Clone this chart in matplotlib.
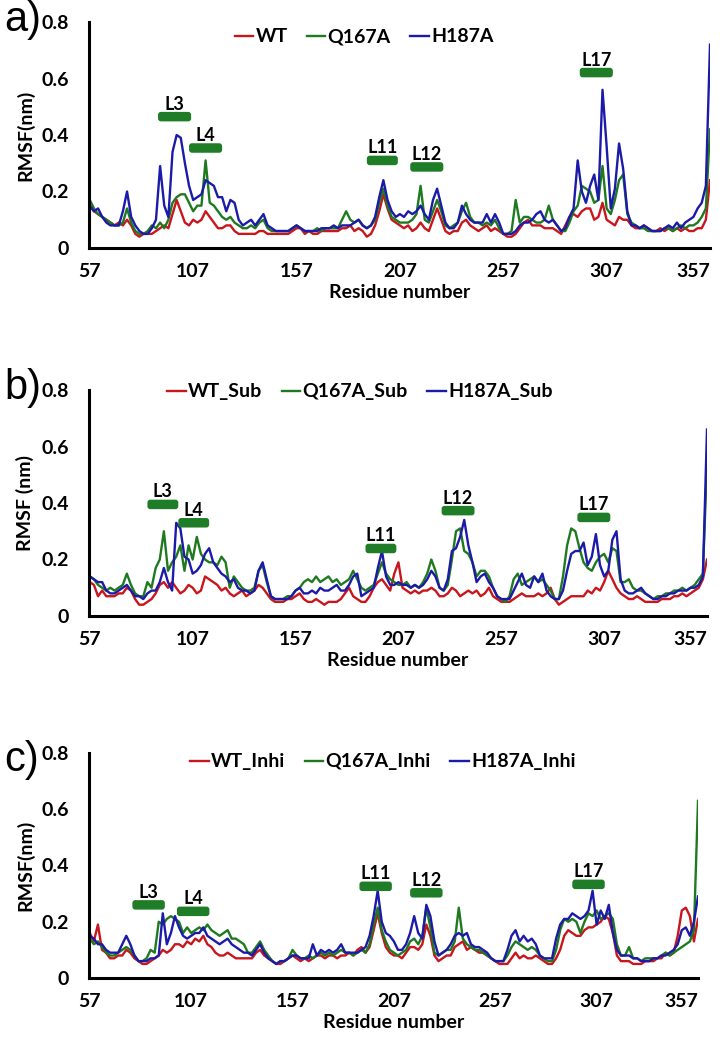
import numpy as np
import matplotlib
matplotlib.use('Agg')
import matplotlib.pyplot as plt
from matplotlib.patches import FancyBboxPatch

# residue numbers (every second residue)
residues = list(range(57, 358, 2))

# ---------- a) apo ----------
wt = [0.15, 0.13, 0.12, 0.11, 0.10, 0.09, 0.08, 0.09, 0.08, 0.10,
      0.08, 0.05, 0.04, 0.05, 0.05, 0.05, 0.06, 0.07, 0.08, 0.07,
      0.12, 0.17, 0.13, 0.09, 0.08, 0.10, 0.09, 0.10, 0.13, 0.11,
      0.09, 0.07, 0.07, 0.08, 0.08, 0.06, 0.05, 0.05, 0.05, 0.05,
      0.05, 0.06, 0.06, 0.05, 0.05, 0.05, 0.05, 0.05, 0.05, 0.06,
      0.07, 0.07, 0.05, 0.06, 0.05, 0.05, 0.06, 0.06, 0.06, 0.06,
      0.06, 0.07, 0.07, 0.08, 0.06, 0.07, 0.06, 0.04, 0.05, 0.08,
      0.13, 0.19, 0.14, 0.10, 0.09, 0.08, 0.07, 0.08, 0.06, 0.07,
      0.09, 0.07, 0.06, 0.10, 0.14, 0.10, 0.06, 0.05, 0.06, 0.06,
      0.09, 0.10, 0.08, 0.07, 0.06, 0.07, 0.08, 0.06, 0.07, 0.06,
      0.05, 0.04, 0.04, 0.05, 0.07, 0.09, 0.10, 0.08, 0.08, 0.08,
      0.07, 0.07, 0.07, 0.06, 0.05, 0.08, 0.11, 0.12, 0.11, 0.13,
      0.14, 0.14, 0.10, 0.11, 0.16, 0.10, 0.09, 0.08, 0.11, 0.10,
      0.10, 0.08, 0.07, 0.07, 0.08, 0.07, 0.06, 0.06, 0.07, 0.06,
      0.07, 0.06, 0.07, 0.06, 0.07, 0.06, 0.06, 0.07, 0.07, 0.10,
      0.24]
q167a = [0.17, 0.14, 0.12, 0.11, 0.10, 0.09, 0.08, 0.08, 0.09, 0.14,
         0.09, 0.06, 0.05, 0.05, 0.06, 0.08, 0.07, 0.09, 0.07, 0.10,
         0.16, 0.18, 0.19, 0.19, 0.16, 0.13, 0.15, 0.15, 0.31, 0.16,
         0.15, 0.13, 0.11, 0.10, 0.11, 0.09, 0.08, 0.07, 0.07, 0.08,
         0.07, 0.09, 0.10, 0.07, 0.06, 0.06, 0.06, 0.06, 0.06, 0.07,
         0.08, 0.07, 0.06, 0.06, 0.06, 0.07, 0.06, 0.07, 0.07, 0.07,
         0.07, 0.10, 0.13, 0.10, 0.09, 0.10, 0.08, 0.07, 0.08, 0.10,
         0.16, 0.21, 0.15, 0.11, 0.10, 0.09, 0.09, 0.09, 0.10, 0.12,
         0.22, 0.10, 0.09, 0.13, 0.17, 0.13, 0.08, 0.07, 0.08, 0.09,
         0.13, 0.16, 0.11, 0.09, 0.09, 0.08, 0.09, 0.08, 0.10, 0.07,
         0.05, 0.05, 0.06, 0.17, 0.09, 0.11, 0.11, 0.10, 0.09, 0.09,
         0.10, 0.15, 0.10, 0.08, 0.06, 0.06, 0.09, 0.13, 0.15, 0.22,
         0.21, 0.20, 0.16, 0.17, 0.29, 0.14, 0.12, 0.17, 0.24, 0.26,
         0.12, 0.09, 0.08, 0.07, 0.07, 0.06, 0.06, 0.06, 0.06, 0.07,
         0.07, 0.06, 0.07, 0.08, 0.07, 0.08, 0.08, 0.09, 0.11, 0.14,
         0.42]
h187a = [0.15, 0.13, 0.14, 0.11, 0.09, 0.08, 0.08, 0.08, 0.13, 0.20,
         0.11, 0.08, 0.06, 0.05, 0.05, 0.07, 0.10, 0.29, 0.15, 0.11,
         0.34, 0.40, 0.39, 0.30, 0.22, 0.17, 0.18, 0.19, 0.24, 0.23,
         0.22, 0.18, 0.18, 0.13, 0.17, 0.16, 0.10, 0.08, 0.09, 0.10,
         0.08, 0.10, 0.12, 0.08, 0.07, 0.06, 0.06, 0.06, 0.06, 0.07,
         0.08, 0.07, 0.06, 0.06, 0.06, 0.06, 0.07, 0.07, 0.07, 0.08,
         0.07, 0.08, 0.08, 0.08, 0.09, 0.10, 0.08, 0.07, 0.08, 0.11,
         0.18, 0.24, 0.17, 0.13, 0.11, 0.12, 0.11, 0.13, 0.12, 0.13,
         0.15, 0.12, 0.10, 0.17, 0.21, 0.15, 0.09, 0.07, 0.07, 0.09,
         0.15, 0.12, 0.10, 0.09, 0.09, 0.09, 0.12, 0.09, 0.12, 0.09,
         0.05, 0.05, 0.05, 0.06, 0.08, 0.09, 0.09, 0.10, 0.12, 0.13,
         0.10, 0.09, 0.10, 0.08, 0.06, 0.07, 0.11, 0.14, 0.31, 0.20,
         0.16, 0.22, 0.26, 0.17, 0.56, 0.36, 0.14, 0.21, 0.37, 0.28,
         0.13, 0.08, 0.08, 0.07, 0.08, 0.07, 0.06, 0.06, 0.06, 0.07,
         0.08, 0.07, 0.09, 0.07, 0.09, 0.10, 0.11, 0.14, 0.16, 0.22,
         0.72]

# ---------- b) substrate ----------
wt_sub = [0.12, 0.11, 0.07, 0.09, 0.07, 0.07, 0.07, 0.08, 0.08, 0.10,
          0.09, 0.06, 0.04, 0.04, 0.05, 0.06, 0.08, 0.11, 0.12, 0.10,
          0.12, 0.10, 0.08, 0.09, 0.11, 0.10, 0.08, 0.09, 0.14, 0.13,
          0.12, 0.11, 0.09, 0.10, 0.08, 0.07, 0.08, 0.09, 0.07, 0.08,
          0.09, 0.11, 0.10, 0.08, 0.06, 0.05, 0.05, 0.05, 0.06, 0.06,
          0.07, 0.08, 0.06, 0.05, 0.05, 0.06, 0.05, 0.04, 0.05, 0.05,
          0.05, 0.06, 0.08, 0.10, 0.07, 0.06, 0.05, 0.05, 0.07, 0.10,
          0.12, 0.13, 0.11, 0.09, 0.15, 0.19, 0.10, 0.09, 0.08, 0.09,
          0.08, 0.09, 0.09, 0.10, 0.09, 0.07, 0.07, 0.08, 0.10, 0.09,
          0.07, 0.08, 0.09, 0.08, 0.09, 0.07, 0.08, 0.10, 0.07, 0.06,
          0.05, 0.05, 0.05, 0.06, 0.07, 0.08, 0.07, 0.07, 0.07, 0.08,
          0.07, 0.08, 0.10, 0.06, 0.04, 0.05, 0.06, 0.07, 0.07, 0.07,
          0.07, 0.09, 0.08, 0.10, 0.09, 0.12, 0.16, 0.13, 0.10, 0.08,
          0.07, 0.06, 0.06, 0.07, 0.06, 0.05, 0.05, 0.05, 0.05, 0.06,
          0.06, 0.06, 0.07, 0.07, 0.08, 0.07, 0.08, 0.09, 0.10, 0.13,
          0.20]
q167a_sub = [0.14, 0.13, 0.11, 0.10, 0.09, 0.10, 0.09, 0.10, 0.11, 0.15,
             0.11, 0.08, 0.07, 0.07, 0.12, 0.10, 0.17, 0.20, 0.30, 0.16,
             0.19, 0.21, 0.25, 0.16, 0.25, 0.20, 0.28, 0.22, 0.20, 0.19,
             0.19, 0.18, 0.21, 0.19, 0.10, 0.14, 0.12, 0.10, 0.09, 0.09,
             0.10, 0.16, 0.18, 0.12, 0.07, 0.06, 0.06, 0.06, 0.07, 0.07,
             0.09, 0.10, 0.12, 0.13, 0.12, 0.14, 0.12, 0.13, 0.14, 0.12,
             0.13, 0.11, 0.12, 0.13, 0.16, 0.13, 0.10, 0.09, 0.10, 0.11,
             0.15, 0.19, 0.15, 0.13, 0.12, 0.11, 0.11, 0.12, 0.10, 0.11,
             0.10, 0.12, 0.15, 0.20, 0.16, 0.10, 0.09, 0.11, 0.20, 0.30,
             0.31, 0.23, 0.22, 0.19, 0.14, 0.16, 0.16, 0.14, 0.10, 0.07,
             0.06, 0.05, 0.07, 0.13, 0.15, 0.11, 0.12, 0.13, 0.14, 0.12,
             0.13, 0.11, 0.09, 0.06, 0.06, 0.14, 0.25, 0.31, 0.30, 0.24,
             0.19, 0.17, 0.16, 0.19, 0.21, 0.22, 0.19, 0.24, 0.23, 0.12,
             0.12, 0.13, 0.10, 0.09, 0.09, 0.08, 0.07, 0.06, 0.07, 0.07,
             0.08, 0.08, 0.09, 0.09, 0.10, 0.09, 0.10, 0.11, 0.13, 0.15,
             0.54]
h187a_sub = [0.14, 0.13, 0.12, 0.12, 0.09, 0.08, 0.08, 0.09, 0.10, 0.11,
             0.09, 0.07, 0.07, 0.06, 0.08, 0.09, 0.09, 0.12, 0.17, 0.12,
             0.09, 0.33, 0.31, 0.21, 0.20, 0.15, 0.16, 0.18, 0.22, 0.24,
             0.19, 0.17, 0.15, 0.14, 0.12, 0.13, 0.10, 0.09, 0.09, 0.08,
             0.09, 0.16, 0.19, 0.13, 0.07, 0.06, 0.06, 0.06, 0.06, 0.07,
             0.09, 0.10, 0.08, 0.08, 0.09, 0.08, 0.10, 0.09, 0.09, 0.10,
             0.11, 0.09, 0.09, 0.11, 0.14, 0.15, 0.07, 0.08, 0.09, 0.10,
             0.17, 0.23, 0.14, 0.11, 0.11, 0.12, 0.11, 0.11, 0.10, 0.11,
             0.10, 0.11, 0.13, 0.16, 0.14, 0.10, 0.09, 0.13, 0.23, 0.24,
             0.28, 0.34, 0.25, 0.19, 0.12, 0.14, 0.15, 0.12, 0.10, 0.07,
             0.06, 0.06, 0.06, 0.09, 0.12, 0.15, 0.11, 0.10, 0.14, 0.12,
             0.15, 0.09, 0.07, 0.06, 0.06, 0.09, 0.16, 0.22, 0.23, 0.23,
             0.26, 0.18, 0.21, 0.29, 0.18, 0.14, 0.16, 0.27, 0.30, 0.13,
             0.09, 0.08, 0.08, 0.09, 0.10, 0.08, 0.07, 0.06, 0.06, 0.07,
             0.07, 0.08, 0.08, 0.09, 0.09, 0.09, 0.10, 0.10, 0.11, 0.14,
             0.66]

# ---------- c) inhibitor ----------
wt_inhi = [0.16, 0.13, 0.19, 0.10, 0.09, 0.07, 0.07, 0.08, 0.08, 0.10,
           0.09, 0.07, 0.06, 0.05, 0.05, 0.06, 0.07, 0.08, 0.10, 0.09,
           0.10, 0.12, 0.12, 0.11, 0.13, 0.12, 0.14, 0.13, 0.15, 0.12,
           0.11, 0.09, 0.08, 0.08, 0.09, 0.08, 0.07, 0.07, 0.07, 0.07,
           0.07, 0.09, 0.10, 0.08, 0.07, 0.06, 0.05, 0.05, 0.06, 0.07,
           0.08, 0.07, 0.06, 0.07, 0.06, 0.07, 0.08, 0.08, 0.07, 0.08,
           0.08, 0.07, 0.08, 0.08, 0.09, 0.08, 0.10, 0.11, 0.09, 0.11,
           0.17, 0.23, 0.16, 0.11, 0.09, 0.08, 0.08, 0.07, 0.09, 0.11,
           0.11, 0.10, 0.12, 0.19, 0.15, 0.08, 0.06, 0.07, 0.08, 0.08,
           0.11, 0.12, 0.13, 0.10, 0.11, 0.10, 0.09, 0.09, 0.08, 0.07,
           0.06, 0.05, 0.05, 0.05, 0.07, 0.09, 0.07, 0.08, 0.07, 0.07,
           0.08, 0.07, 0.06, 0.05, 0.05, 0.07, 0.10, 0.15, 0.17, 0.16,
           0.15, 0.15, 0.17, 0.18, 0.18, 0.19, 0.20, 0.22, 0.21, 0.16,
           0.08, 0.06, 0.06, 0.06, 0.05, 0.05, 0.05, 0.06, 0.06, 0.06,
           0.07, 0.07, 0.09, 0.08, 0.09, 0.15, 0.24, 0.25, 0.22, 0.13,
           0.21]
q167a_inhi = [0.14, 0.12, 0.13, 0.11, 0.09, 0.08, 0.08, 0.09, 0.10, 0.11,
              0.10, 0.08, 0.06, 0.06, 0.07, 0.10, 0.09, 0.20, 0.19, 0.21,
              0.22, 0.21, 0.20, 0.16, 0.18, 0.16, 0.17, 0.18, 0.17, 0.19,
              0.17, 0.16, 0.15, 0.16, 0.17, 0.14, 0.14, 0.13, 0.12, 0.09,
              0.09, 0.11, 0.13, 0.10, 0.08, 0.06, 0.05, 0.06, 0.06, 0.07,
              0.10, 0.08, 0.07, 0.07, 0.08, 0.07, 0.08, 0.09, 0.08, 0.09,
              0.08, 0.09, 0.10, 0.09, 0.09, 0.08, 0.09, 0.10, 0.09, 0.12,
              0.19, 0.25, 0.17, 0.13, 0.10, 0.09, 0.08, 0.09, 0.10, 0.13,
              0.14, 0.12, 0.15, 0.25, 0.18, 0.09, 0.08, 0.09, 0.10, 0.10,
              0.13, 0.25, 0.14, 0.12, 0.11, 0.10, 0.10, 0.09, 0.08, 0.07,
              0.06, 0.06, 0.06, 0.08, 0.11, 0.13, 0.12, 0.11, 0.10, 0.11,
              0.10, 0.08, 0.07, 0.06, 0.06, 0.10, 0.17, 0.21, 0.20, 0.21,
              0.20, 0.16, 0.20, 0.23, 0.22, 0.24, 0.21, 0.22, 0.23, 0.21,
              0.12, 0.08, 0.08, 0.11, 0.07, 0.07, 0.06, 0.07, 0.07, 0.07,
              0.07, 0.08, 0.09, 0.08, 0.09, 0.10, 0.11, 0.12, 0.13, 0.17,
              0.63]
h187a_inhi = [0.15, 0.14, 0.12, 0.12, 0.10, 0.09, 0.09, 0.09, 0.12, 0.15,
              0.12, 0.08, 0.06, 0.06, 0.06, 0.07, 0.07, 0.08, 0.23, 0.12,
              0.16, 0.22, 0.18, 0.15, 0.14, 0.15, 0.16, 0.16, 0.18, 0.15,
              0.14, 0.13, 0.12, 0.13, 0.14, 0.12, 0.11, 0.10, 0.09, 0.09,
              0.08, 0.10, 0.12, 0.09, 0.07, 0.06, 0.05, 0.06, 0.06, 0.07,
              0.08, 0.08, 0.07, 0.07, 0.07, 0.12, 0.08, 0.10, 0.09, 0.10,
              0.09, 0.10, 0.12, 0.09, 0.09, 0.09, 0.09, 0.10, 0.11, 0.15,
              0.22, 0.31, 0.20, 0.16, 0.15, 0.13, 0.10, 0.10, 0.12, 0.16,
              0.22, 0.16, 0.14, 0.26, 0.22, 0.13, 0.08, 0.09, 0.10, 0.12,
              0.15, 0.16, 0.15, 0.16, 0.12, 0.11, 0.11, 0.10, 0.09, 0.07,
              0.06, 0.06, 0.06, 0.10, 0.15, 0.17, 0.13, 0.15, 0.13, 0.14,
              0.12, 0.08, 0.07, 0.07, 0.07, 0.14, 0.19, 0.21, 0.21, 0.23,
              0.22, 0.21, 0.22, 0.24, 0.31, 0.19, 0.24, 0.21, 0.26, 0.16,
              0.10, 0.08, 0.08, 0.08, 0.07, 0.07, 0.06, 0.06, 0.06, 0.07,
              0.07, 0.08, 0.08, 0.09, 0.10, 0.12, 0.17, 0.18, 0.15, 0.20,
              0.29]

# ---------- loop markers (start residue, end residue, RMSF level) ----------
loop_names = ['L3', 'L4', 'L11', 'L12', 'L17']
loops_a_start = [90, 105, 191, 212, 294]
loops_a_end = [106, 121, 206, 228, 310]
loops_a_y = [0.465, 0.354, 0.31, 0.287, 0.621]
loops_b_start = [85, 100, 191, 228, 294]
loops_b_end = [100, 115, 206, 244, 310]
loops_b_y = [0.395, 0.33, 0.239, 0.373, 0.349]
loops_c_start = [78, 100, 190, 215, 295]
loops_c_end = [94, 116, 206, 231, 311]
loops_c_y = [0.26, 0.237, 0.326, 0.303, 0.333]

xticks = [57, 107, 157, 207, 257, 307, 357]
yticks = [0, 0.2, 0.4, 0.6, 0.8]
ytick_labels = ['0', '0.2', '0.4', '0.6', '0.8']

RED = '#c8161d'
GREEN = '#1f7a1f'
BLUE = '#1c1aa8'
BAR = '#1e7d26'

plt.rcParams['font.family'] = ['Lato', 'DejaVu Sans']
plt.rcParams['font.weight'] = 'bold'
plt.rcParams['axes.labelweight'] = 'bold'

W, H = 722, 1057
fig = plt.figure(figsize=(W / 100, H / 100), dpi=100)

# pixel boxes of the three plot areas: left, right, top, bottom
panels = [
    dict(box=(89, 710, 22, 248), series=(wt, q167a, h187a),
         labels=('WT', 'Q167A', 'H187A'), ylabel='RMSF(nm)', tag='a)',
         tag_y=20, leg=(364, 37),
         loops=(loops_a_start, loops_a_end, loops_a_y)),
    dict(box=(89, 707, 390, 616), series=(wt_sub, q167a_sub, h187a_sub),
         labels=('WT_Sub', 'Q167A_Sub', 'H187A_Sub'), ylabel='RMSF (nm)', tag='b)',
         tag_y=388, leg=(360, 392),
         loops=(loops_b_start, loops_b_end, loops_b_y)),
    dict(box=(89, 698, 753, 978), series=(wt_inhi, q167a_inhi, h187a_inhi),
         labels=('WT_Inhi', 'Q167A_Inhi', 'H187A_Inhi'), ylabel='RMSF(nm)', tag='c)',
         tag_y=760, leg=(383, 762),
         loops=(loops_c_start, loops_c_end, loops_c_y)),
]

for p in panels:
    l, r, t, b = p['box']
    ax = fig.add_axes([l / W, 1 - b / H, (r - l) / W, (b - t) / H])
    for vals, lab, col in zip(p['series'], p['labels'], (RED, GREEN, BLUE)):
        ax.plot(residues, vals, color=col, lw=1.7, label=lab)
    ax.set_xlim(56.6, 357)
    ax.set_ylim(0, 0.8)
    ax.set_xticks(xticks)
    ax.set_yticks(yticks)
    ax.set_yticklabels(ytick_labels)
    ax.tick_params(length=0, labelsize=14)
    ax.tick_params(axis='x', pad=11)
    ax.tick_params(axis='y', pad=14.5)
    ax.get_xticklabels()[-1].set_ha('right')
    for s in ['top', 'right']:
        ax.spines[s].set_visible(False)
    for s in ['left', 'bottom']:
        ax.spines[s].set_linewidth(2.2)
    ax.set_ylabel(p['ylabel'], fontsize=14, labelpad=5)
    ax.set_xlabel('Residue number', fontsize=14, labelpad=3)

    # loop bars
    px_per_res = (r - l) / (357 - 56.6)
    px_per_val = (b - t) / 0.8
    aspect = px_per_res / px_per_val
    starts, ends, levels = p['loops']
    for name, s0, s1, yv in zip(loop_names, starts, ends, levels):
        h = 9.5 / px_per_val
        patch = FancyBboxPatch((s0, yv - h / 2), s1 - s0, h,
                               boxstyle='round,pad=0,rounding_size=1.4',
                               mutation_aspect=aspect,
                               fc=BAR, ec='none', zorder=4)
        ax.add_patch(patch)
        ax.annotate(name, ((s0 + s1) / 2, yv), xytext=(0, 9),
                    textcoords='offset points', ha='center', va='center',
                    fontsize=13, zorder=5)

    lx, ly = p['leg']
    ax.legend(loc='center', bbox_to_anchor=(lx / W, 1 - ly / H),
              bbox_transform=fig.transFigure, ncol=3, frameon=False,
              handlelength=0.95, handletextpad=0.12, columnspacing=1.0,
              fontsize=14, borderaxespad=0)

    fig.text(4 / W, 1 - p['tag_y'] / H, p['tag'], fontsize=30,
             family='Liberation Sans', weight='normal', ha='left', va='center')

fig.savefig('out.png', dpi=100)
